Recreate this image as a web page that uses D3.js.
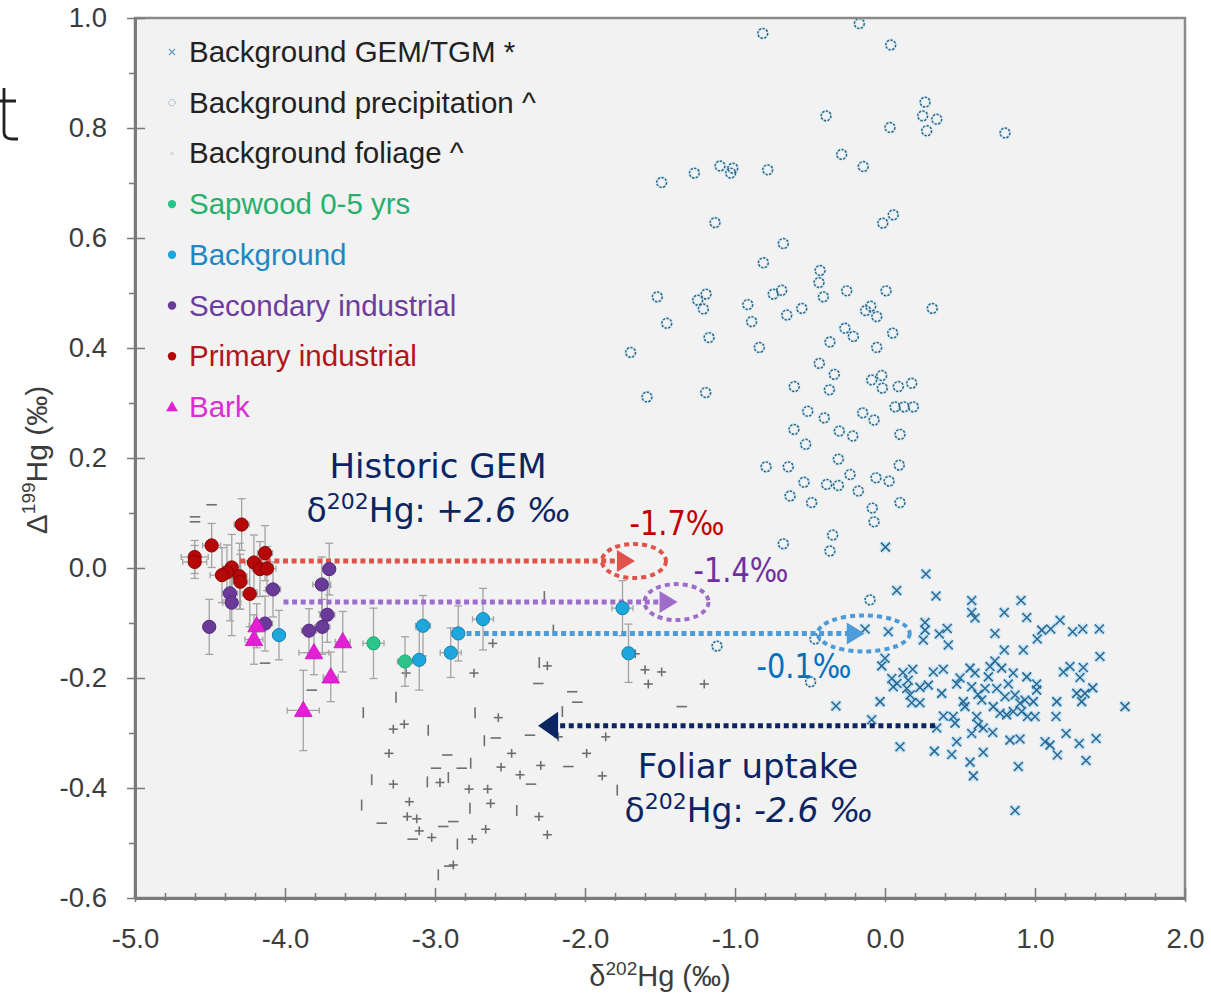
<!DOCTYPE html>
<html><head><meta charset="utf-8">
<script src="https://cdn.jsdelivr.net/npm/d3@7"></script>
<style>body{margin:0;background:#fff;} svg{display:block;}</style>
</head><body>
<svg id="chart" width="1211" height="996"></svg>
<script>
// ---------------- DATA ----------------
const xTicks = [-5, -4, -3, -2, -1, 0, 1, 2];
const xTickLabels = ["-5.0", "-4.0", "-3.0", "-2.0", "-1.0", "0.0", "1.0", "2.0"];
const yTicks = [-0.6, -0.4, -0.2, 0.0, 0.2, 0.4, 0.6, 0.8, 1.0];
const yTickLabels = ["-0.6", "-0.4", "-0.2", "0.0", "0.2", "0.4", "0.6", "0.8", "1.0"];
const legendLabels = ["Background GEM/TGM *", "Background precipitation ^", "Background foliage  ^",
  "Sapwood 0-5 yrs", "Background", "Secondary industrial", "Primary industrial", "Bark"];

// Background GEM/TGM: [δ202Hg, Δ199Hg]
const gemTGM = [
  [0.273,-0.011],[0.078,-0.041],[0.34,-0.051],[0.578,-0.059],[0.907,-0.059],[0.578,-0.081],[0.6,-0.091],
  [0.795,-0.081],[0.945,-0.090],[-0.133,-0.111],[0.022,-0.116],[0.267,-0.099],[0.267,-0.113],[0.255,-0.131],
  [0.362,-0.120],[0.415,-0.110],[0.422,-0.140],[0.733,-0.119],[1.045,-0.113],[1.105,-0.111],[1.167,-0.095],
  [1.015,-0.129],[1.251,-0.116],[1.318,-0.111],[1.429,-0.111],[0.795,-0.149],[0.922,-0.149],[1.433,-0.161],
  [0.0,-0.164],[-0.022,-0.178],[0.185,-0.184],[0.155,-0.204],[0.145,-0.219],[0.167,-0.231],[0.178,-0.245],
  [0.233,-0.245],[0.045,-0.201],[0.055,-0.216],[0.233,-0.217],[0.289,-0.213],[0.322,-0.189],[0.389,-0.184],
  [0.378,-0.228],[0.478,-0.211],[-0.033,-0.243],[0.567,-0.182],[0.6,-0.191],[0.578,-0.216],[0.7,-0.179],
  [0.733,-0.169],[0.778,-0.182],[0.689,-0.198],[0.855,-0.191],[0.945,-0.198],[1.011,-0.211],[1.011,-0.222],
  [0.822,-0.211],[0.667,-0.219],[0.645,-0.240],[0.745,-0.219],[0.8,-0.234],[0.867,-0.231],[0.933,-0.240],
  [0.989,-0.243],[0.9,-0.246],[0.522,-0.243],[0.533,-0.252],[0.722,-0.252],[0.767,-0.264],[0.811,-0.267],
  [0.855,-0.261],[0.911,-0.261],[1.0,-0.270],[1.145,-0.243],[1.189,-0.189],[1.233,-0.179],[1.322,-0.181],
  [1.3,-0.199],[1.278,-0.228],[1.333,-0.228],[1.385,-0.218],[1.311,-0.243],[1.6,-0.252],[1.14,-0.270],
  [0.389,-0.269],[0.455,-0.270],[0.467,-0.282],[-0.089,-0.276],[0.611,-0.270],[0.622,-0.285],[0.655,-0.291],
  [0.578,-0.301],[0.718,-0.299],[0.345,-0.291],[0.833,-0.313],[0.9,-0.311],[1.207,-0.301],[1.067,-0.316],
  [1.1,-0.322],[1.149,-0.340],[1.295,-0.319],[1.407,-0.310],[0.478,-0.316],[0.1,-0.325],[0.329,-0.333],
  [0.445,-0.339],[0.655,-0.335],[0.567,-0.353],[0.589,-0.378],[0.889,-0.361],[1.34,-0.350],[0.867,-0.441],
  [-0.327,-0.251],[0.003,0.038],[0.12,-0.19],[0.08,-0.21],[0.5,-0.2],[0.95,-0.27],[0.62,-0.23]
];

// Background precipitation: [δ202Hg, Δ199Hg]
const precipitation = [
  [-0.815,0.972],[-0.171,0.990],[0.038,0.951],[0.267,0.847],[0.251,0.822],[0.345,0.816],[0.278,0.795],
  [0.033,0.801],[-0.393,0.822],[-0.289,0.752],[-0.145,0.730],[-1.489,0.701],[-1.271,0.718],[-1.1,0.731],
  [-1.029,0.718],[-1.015,0.727],[-0.782,0.724],[-1.133,0.628],[-0.015,0.627],[0.055,0.642],[-0.678,0.590],
  [-0.811,0.555],[-0.433,0.541],[-0.44,0.519],[-0.411,0.493],[-1.518,0.493],[-1.249,0.487],[-1.193,0.498],
  [-1.211,0.471],[-0.915,0.479],[-0.889,0.448],[-1.455,0.445],[-0.745,0.498],[-0.689,0.505],[-0.655,0.460],
  [-0.555,0.472],[-0.255,0.504],[0.007,0.504],[-0.129,0.468],[-0.095,0.476],[-0.055,0.457],[0.315,0.472],
  [-0.267,0.436],[0.051,0.427],[0.8,0.791],
  [-1.173,0.419],[-0.838,0.401],[-0.367,0.411],[-0.211,0.421],[-0.055,0.401],[-0.438,0.372],[-0.338,0.352],
  [-0.605,0.330],[-0.371,0.324],[-0.089,0.342],[-0.022,0.350],[-0.018,0.327],[0.089,0.330],[0.178,0.336],
  [-1.195,0.319],[0.067,0.293],[0.127,0.293],[0.189,0.293],[-0.515,0.285],[-0.405,0.273],[-0.149,0.282],
  [-0.073,0.269],[-0.607,0.252],[-0.305,0.249],[-0.215,0.240],[0.1,0.243],[-0.529,0.225],[-0.311,0.198],
  [-0.793,0.184],[-0.645,0.184],[0.095,0.187],[-0.233,0.170],[-0.54,0.156],[-0.389,0.152],[-0.311,0.150],
  [-0.06,0.164],[0.027,0.158],[-0.178,0.140],[-0.633,0.131],[-0.489,0.119],[0.1,0.119],[-0.085,0.109],
  [-0.073,0.084],[-0.349,0.060],[-0.678,0.044],[-0.367,0.031],
  [-1.696,0.392],[-1.587,0.311],
  [-0.1,-0.058],[-1.12,-0.142],[-0.467,-0.129],[-0.496,-0.207]
];

// Background foliage: [δ202Hg, Δ199Hg, xErr, yErr]
const foliage = [
  [-2.615,-0.137,0.03,0.008],[-2.74,-0.191,0.03,0.008],[-2.305,-0.172,0,0.01],[-2.251,-0.178,0.03,0.008],
  [-2.311,-0.210,0.035,0],[-2.085,-0.225,0.035,0],[-2.051,-0.244,0.035,0],[-2.151,-0.261,0,0.01],
  [-3.26,-0.235,0,0.01],[-3.478,-0.263,0,0.01],[-2.733,-0.263,0,0.01],[-2.578,-0.272,0.03,0.008],
  [-3.205,-0.284,0.03,0.008],[-3.045,-0.295,0,0.01],[-3.278,-0.293,0.03,0.008],[-2.367,-0.304,0.035,0],
  [-2.595,-0.309,0.035,0],[-2.671,-0.314,0,0.01],[-1.862,-0.307,0.03,0.008],[-2.178,-0.307,0.03,0.008],
  [-3.307,-0.337,0.03,0.008],[-2.489,-0.337,0.03,0.008],[-1.989,-0.337,0.03,0.008],[-2.918,-0.340,0.035,0],
  [-2.993,-0.364,0.035,0],[-2.822,-0.364,0.035,0],[-2.762,-0.355,0,0.01],[-2.56,-0.362,0.03,0.008],
  [-2.295,-0.359,0.03,0.008],[-2.111,-0.361,0.035,0],[-2.433,-0.376,0.03,0.008],[-1.885,-0.378,0.03,0.008],
  [-3.422,-0.385,0,0.01],[-3.278,-0.393,0.03,0.008],[-3.051,-0.389,0,0.01],[-2.967,-0.390,0.03,0.008],
  [-2.911,-0.381,0,0.01],[-2.36,-0.393,0.035,0],[-1.785,-0.404,0,0.01],[-2.773,-0.402,0.03,0.008],
  [-2.649,-0.402,0.03,0.008],[-3.171,-0.425,0.03,0.008],[-2.629,-0.428,0.03,0.008],[-3.489,-0.431,0,0.01],
  [-2.767,-0.437,0,0.01],[-2.455,-0.441,0,0.01],[-2.307,-0.452,0.03,0.008],[-3.185,-0.452,0.03,0.008],
  [-3.122,-0.456,0.03,0.008],[-3.355,-0.464,0.035,0],[-2.878,-0.461,0.035,0],[-2.945,-0.470,0.035,0],
  [-3.105,-0.478,0.03,0.008],[-2.662,-0.475,0.03,0.008],[-2.251,-0.485,0.03,0.008],[-3.149,-0.493,0.035,0],
  [-3.022,-0.490,0.03,0.008],[-2.751,-0.493,0.03,0.008],[-2.851,-0.502,0,0.01],[-2.878,-0.540,0.03,0.008],
  [-2.905,-0.542,0.035,0],[-2.978,-0.558,0,0.01],
  [-1.6,-0.185,0.03,0.008],[-1.489,-0.189,0.03,0.008],[-1.578,-0.211,0.03,0.008],[-1.205,-0.211,0.03,0.008],
  [-1.355,-0.252,0.035,0],
  [-4.489,0.115,0.035,0],[-4.6,0.093,0.035,0],[-4.6,0.084,0.035,0],[-4.133,-0.173,0.035,0],[-3.822,-0.222,0.035,0],
  [-3.193,-0.191,0.03,0.008],[-2.271,-0.052,0,0.01],[-2.211,-0.113,0,0.01],[-1.665,-0.156,0.03,0.008]
];

// Tree-ring groups: [δ202Hg, Δ199Hg, xErr, yErr]
const sapwood = [[-3.41,-0.137,0.07,0.064],[-3.20,-0.170,0.05,0.045]];
const background = [
  [-4.04,-0.122,0.04,0.045],[-3.08,-0.105,0.05,0.055],[-3.105,-0.167,0.04,0.055],[-2.845,-0.119,0.04,0.05],
  [-2.895,-0.154,0.07,0.045],[-2.68,-0.093,0.07,0.056],[-1.75,-0.073,0.07,0.05],[-1.71,-0.155,0.04,0.053]
];
const secondaryIndustrial = [
  [-3.705,-0.002,0.04,0.047],[-3.755,-0.030,0.06,0.05],[-4.08,-0.039,0.05,0.05],[-4.367,-0.046,0.05,0.05],
  [-4.355,-0.063,0.06,0.06],[-3.718,-0.085,0.05,0.05],[-4.505,-0.107,0.04,0.05],[-4.133,-0.101,0.05,0.05],
  [-3.84,-0.114,0.05,0.04],[-3.751,-0.107,0.05,0.05]
];
const primaryIndustrial = [
  [-4.289,0.079,0.05,0.047],[-4.489,0.041,0.06,0.04],[-4.602,0.020,0.09,0.03],[-4.602,0.011,0.08,0.03],
  [-4.133,0.027,0.05,0.05],[-4.207,0.010,0.06,0.05],[-4.167,-0.002,0.05,0.05],[-4.120,-0.001,0.06,0.04],
  [-4.355,0.001,0.06,0.06],[-4.387,-0.008,0.05,0.05],[-4.420,-0.013,0.08,0.05],[-4.303,-0.015,0.05,0.06],
  [-4.298,-0.025,0.05,0.05],[-4.235,-0.047,0.05,0.06]
];
const bark = [
  [-4.189,-0.105,0.05,0.04],[-4.207,-0.130,0.06,0.045],[-3.807,-0.154,0.10,0.04],[-3.615,-0.134,0.05,0.055],
  [-3.695,-0.198,0.05,0.045],[-3.878,-0.259,0.107,0.073]
];

// Shift annotations: horizontal arrows (data units)
const shiftLabels = ["-1.7‰", "-1.4‰", "-0.1‰"];
const shiftY = [0.0127, -0.062, -0.119];
const shiftFrom = [-4.30, -4.01, -2.79];
const shiftTo = [-1.667, -1.383, -0.135];
const foliarY = -0.287, foliarFrom = 0.333, foliarTo = -2.313;

// ---------------- CHART ----------------
const svg = d3.select("#chart");
const x = d3.scaleLinear().domain([-5, 2]).range([135, 1185]);
const y = d3.scaleLinear().domain([-0.6, 1.0]).range([898, 18]);
const FONT = "'Liberation Sans', Arial, sans-serif";
const AFONT = "'DejaVu Sans', Verdana, sans-serif";

svg.append("rect").attr("x", 135).attr("y", 18).attr("width", 1050).attr("height", 880).attr("fill", "#f2f2f2");

const plot = svg.append("g");

// foliage error-bar crosses
const fg = plot.append("g").attr("stroke", "#6e6e6e").attr("stroke-width", 1.6);
foliage.forEach(d => {
  if (d[2] > 0) fg.append("line").attr("x1", x(d[0] - d[2])).attr("x2", x(d[0] + d[2])).attr("y1", y(d[1])).attr("y2", y(d[1]));
  if (d[3] > 0) fg.append("line").attr("x1", x(d[0])).attr("x2", x(d[0])).attr("y1", y(d[1] - d[3])).attr("y2", y(d[1] + d[3]));
});

// precipitation circles
const pg = plot.append("g");
pg.selectAll("circle.h").data(precipitation).join("circle")
  .attr("cx", d => x(d[0])).attr("cy", d => y(d[1])).attr("r", 4.9)
  .attr("fill", "none").attr("stroke", "#d2ecfa").attr("stroke-width", 3.4).attr("opacity", 0.8);
pg.selectAll("circle.p").data(precipitation).join("circle")
  .attr("cx", d => x(d[0])).attr("cy", d => y(d[1])).attr("r", 4.9)
  .attr("fill", "none").attr("stroke", "#34647c").attr("stroke-width", 1.5).attr("stroke-dasharray", "2.4,1.3");

// GEM crosses
const cross = "M-4.5,-4.5L4.5,4.5M-4.5,4.5L4.5,-4.5";
const gg = plot.append("g");
gg.selectAll("path.h").data(gemTGM).join("path")
  .attr("transform", d => `translate(${x(d[0])},${y(d[1])})`).attr("d", cross)
  .attr("stroke", "#a6d9f6").attr("stroke-width", 5).attr("opacity", 0.6).attr("fill", "none");
gg.selectAll("path.c").data(gemTGM).join("path")
  .attr("transform", d => `translate(${x(d[0])},${y(d[1])})`).attr("d", cross)
  .attr("stroke", "#2a6790").attr("stroke-width", 1.5).attr("fill", "none");

// error bars for tree-ring groups
const groups = [sapwood, background, secondaryIndustrial, primaryIndustrial, bark];
const eg = plot.append("g").attr("stroke", "#a3a3a3").attr("stroke-width", 1.3);
groups.forEach(g => g.forEach(d => {
  const cx = x(d[0]), cy = y(d[1]);
  eg.append("line").attr("x1", x(d[0] - d[2])).attr("x2", x(d[0] + d[2])).attr("y1", cy).attr("y2", cy);
  eg.append("line").attr("x1", cx).attr("x2", cx).attr("y1", y(d[1] - d[3])).attr("y2", y(d[1] + d[3]));
  [d[0] - d[2], d[0] + d[2]].forEach(v => eg.append("line").attr("x1", x(v)).attr("x2", x(v)).attr("y1", cy - 3).attr("y2", cy + 3));
  [d[1] - d[3], d[1] + d[3]].forEach(v => eg.append("line").attr("x1", cx - 4).attr("x2", cx + 4).attr("y1", y(v)).attr("y2", y(v)));
}));

// shift arrows
const shiftColors = ["#e0534b", "#9e6cc9", "#4d9bd8"];
const textColors = ["#c00000", "#7030a0", "#0070c0"];
const ag = svg.append("g");
shiftY.forEach((v, i) => {
  const yy = y(v), tip = x(shiftTo[i]);
  ag.append("line").attr("x1", x(shiftFrom[i])).attr("x2", tip - 17).attr("y1", yy).attr("y2", yy)
    .attr("stroke", shiftColors[i]).attr("stroke-width", 5).attr("stroke-dasharray", "5,3.6");
  ag.append("path").attr("d", `M${tip},${yy}L${tip - 18},${yy - 11}L${tip - 18},${yy + 11}Z`).attr("fill", shiftColors[i]);
  ag.append("ellipse").attr("cx", tip - 1).attr("cy", yy).attr("rx", i === 2 ? 46 : 32).attr("ry", i === 0 ? 17 : 18)
    .attr("fill", "none").attr("stroke", shiftColors[i]).attr("stroke-width", 4).attr("stroke-dasharray", "5,4");
});
{
  const yy = y(foliarY), tip = x(foliarTo);
  ag.append("line").attr("x1", x(foliarFrom)).attr("x2", tip + 18).attr("y1", yy).attr("y2", yy)
    .attr("stroke", "#0b2462").attr("stroke-width", 5).attr("stroke-dasharray", "5,3.6");
  ag.append("path").attr("d", `M${tip},${yy}L${tip + 20},${yy - 14}L${tip + 20},${yy + 14}Z`).attr("fill", "#0b2462");
}

// colored points
const pointStyles = [
  {fill: "#2cc48b", stroke: "#1fa874"},
  {fill: "#1ea7dc", stroke: "#1580b4"},
  {fill: "#6a3a98", stroke: "#55287e"},
  {fill: "#b50808", stroke: "#8e0000"},
];
const cg = svg.append("g");
[sapwood, background, secondaryIndustrial, primaryIndustrial].forEach((g, i) => {
  cg.append("g").selectAll("circle").data(g).join("circle")
    .attr("cx", d => x(d[0])).attr("cy", d => y(d[1])).attr("r", 6.6)
    .attr("fill", pointStyles[i].fill).attr("stroke", pointStyles[i].stroke).attr("stroke-width", 1);
});
const tri = d3.symbol(d3.symbolTriangle, 135)();
cg.append("g").selectAll("path").data(bark).join("path")
  .attr("transform", d => `translate(${x(d[0])},${y(d[1]) + 1})`).attr("d", tri)
  .attr("fill", "#e41fd5").attr("stroke", "#c410b8").attr("stroke-width", 0.8);

// shift labels
const shiftLabelPos = [[677, 535], [741, 582], [804, 678]];
shiftLabels.forEach((t, i) => {
  svg.append("text").attr("x", shiftLabelPos[i][0]).attr("y", shiftLabelPos[i][1]).attr("text-anchor", "middle")
    .attr("font-family", AFONT).attr("font-size", 33).attr("fill", textColors[i])
    .attr("textLength", 95).attr("lengthAdjust", "spacingAndGlyphs").text(t);
});

// annotation blocks
function deltaLine(cx, by, value) {
  const t = svg.append("text").attr("x", cx).attr("y", by).attr("text-anchor", "middle")
    .attr("font-family", AFONT).attr("font-size", 33).attr("fill", "#0b2462");
  t.append("tspan").text("δ");
  t.append("tspan").attr("font-size", 22).attr("dy", -13).text("202");
  t.append("tspan").attr("dy", 13).text("Hg: ");
  t.append("tspan").attr("font-style", "italic").text(value);
}
svg.append("text").attr("x", 438).attr("y", 478).attr("text-anchor", "middle")
  .attr("font-family", AFONT).attr("font-size", 34).attr("fill", "#0b2462").text("Historic GEM");
deltaLine(439, 522, "+2.6 ‰");
svg.append("text").attr("x", 748).attr("y", 778).attr("text-anchor", "middle")
  .attr("font-family", AFONT).attr("font-size", 34).attr("fill", "#0b2462").text("Foliar uptake");
deltaLine(749, 822, "-2.6 ‰");

// frame
svg.append("rect").attr("x", 135).attr("y", 18).attr("width", 1050).attr("height", 880)
  .attr("fill", "none").attr("stroke", "#8a8a8a").attr("stroke-width", 2.5);

// axes
const axisColor = "#7a7a7a";
const yMinor = d3.range(-0.5, 1.0, 0.2);
const xMinor = d3.range(-5, 2.001, 0.2).filter(v => Math.abs(v - Math.round(v)) > 0.01);

svg.append("g").attr("transform", "translate(135,0)")
  .call(d3.axisLeft(y).tickValues(yTicks).tickFormat((d, i) => yTickLabels[i]).tickSizeInner(8).tickSizeOuter(0).tickPadding(20));
svg.append("g").attr("transform", "translate(135,0)")
  .call(d3.axisRight(y).tickValues(yTicks).tickFormat("").tickSizeInner(10).tickSizeOuter(0));
svg.append("g").attr("transform", "translate(135,0)")
  .call(d3.axisLeft(y).tickValues(yMinor).tickFormat("").tickSizeInner(6).tickSizeOuter(0));

svg.append("g").attr("transform", "translate(0,898)")
  .call(d3.axisBottom(x).tickValues(xTicks).tickFormat((d, i) => xTickLabels[i]).tickSizeInner(4).tickSizeOuter(0).tickPadding(26));
svg.append("g").attr("transform", "translate(0,898)")
  .call(d3.axisTop(x).tickValues(xTicks).tickFormat("").tickSizeInner(10).tickSizeOuter(0));
svg.append("g").attr("transform", "translate(0,898)")
  .call(d3.axisTop(x).tickValues(xMinor).tickFormat("").tickSizeInner(5).tickSizeOuter(0));
svg.append("g").attr("transform", "translate(0,898)")
  .call(d3.axisBottom(x).tickValues(xMinor).tickFormat("").tickSizeInner(3).tickSizeOuter(0));

svg.selectAll(".domain").attr("stroke", axisColor).attr("stroke-width", 2.5);
svg.selectAll(".tick line").attr("stroke", axisColor).attr("stroke-width", 1.5);
svg.selectAll(".tick text").attr("font-family", FONT).attr("font-size", 27.5).attr("fill", "#3c3c3c");

// axis titles
const xt = svg.append("text").attr("x", 660).attr("y", 986).attr("text-anchor", "middle")
  .attr("font-family", FONT).attr("font-size", 29).attr("fill", "#3c3c3c");
xt.append("tspan").text("δ");
xt.append("tspan").attr("font-size", 19).attr("dy", -11).text("202");
xt.append("tspan").attr("dy", 11).text("Hg (‰)");
const yt = svg.append("text").attr("transform", "translate(47,460) rotate(-90)").attr("text-anchor", "middle")
  .attr("font-family", FONT).attr("font-size", 30).attr("fill", "#3c3c3c");
yt.append("tspan").text("Δ");
yt.append("tspan").attr("font-size", 19).attr("dy", -12).text("199");
yt.append("tspan").attr("dy", 12).text("Hg (‰)");

// legend
const legendColors = ["#222", "#222", "#222", "#27b06c", "#1f86c6", "#6b3d9e", "#b3141c", "#d92ed2"];
const lg = svg.append("g");
legendLabels.forEach((t, i) => {
  const cy = 52 + i * 50.7;
  const mx = 172;
  if (i === 0) {
    lg.append("path").attr("transform", `translate(${mx},${cy})`).attr("d", "M-3,-3L3,3M-3,3L3,-3")
      .attr("stroke", "#5e9dc4").attr("stroke-width", 1.2);
  } else if (i === 1) {
    lg.append("circle").attr("cx", mx).attr("cy", cy).attr("r", 3.2).attr("fill", "none")
      .attr("stroke", "#8aa3b0").attr("stroke-width", 1).attr("stroke-dasharray", "1.5,1");
  } else if (i === 2) {
    lg.append("circle").attr("cx", mx).attr("cy", cy).attr("r", 2).attr("fill", "#dddddd");
  } else if (i === 7) {
    lg.append("path").attr("transform", `translate(${mx},${cy + 1})`).attr("d", d3.symbol(d3.symbolTriangle, 60)())
      .attr("fill", "#e41fd5");
  } else {
    lg.append("circle").attr("cx", mx).attr("cy", cy).attr("r", 4.2).attr("fill", pointStyles[i - 3].fill);
  }
  lg.append("text").attr("x", 189).attr("y", cy + 10).attr("font-family", FONT).attr("font-size", 29.5)
    .attr("fill", legendColors[i]).text(t);
});

// cropped glyph fragment at the left edge of the original figure
svg.append("path").attr("d", "M4,88V132Q4,139 12,139H18M0,101H16").attr("stroke", "#222").attr("stroke-width", 2.8).attr("fill", "none");
</script>
</body></html>
